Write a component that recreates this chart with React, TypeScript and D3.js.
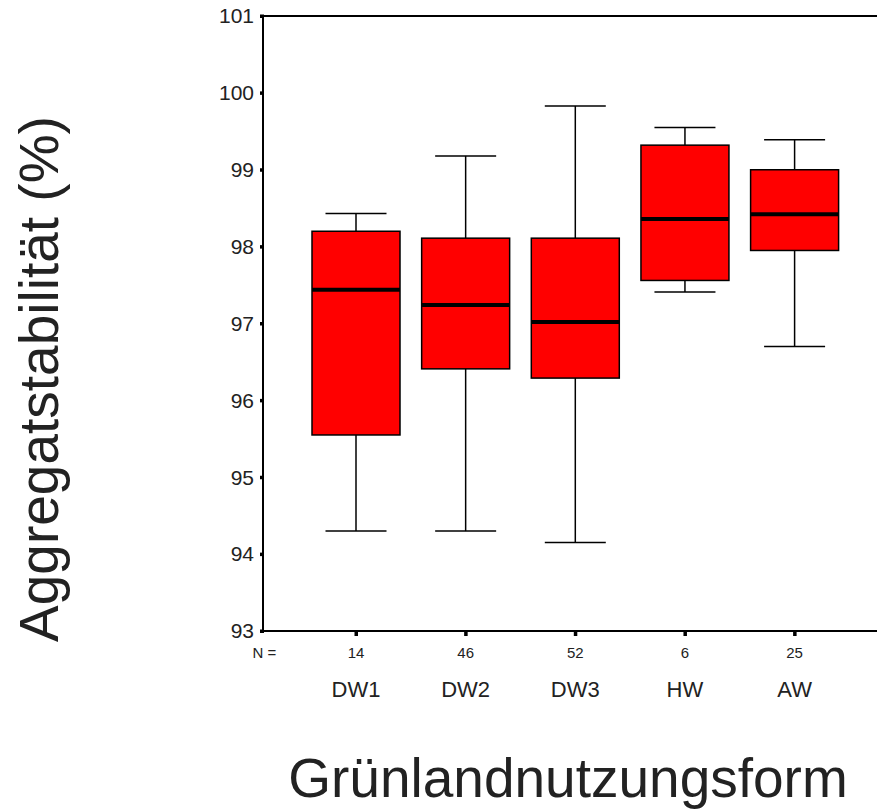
import React from "react";
import * as d3 from "d3";

const categories = ["DW1", "DW2", "DW3", "HW", "AW"];
const counts = [14, 46, 52, 6, 25];
const whiskerLow = [94.3, 94.3, 94.15, 97.41, 96.7];
const q1 = [95.55, 96.41, 96.29, 97.56, 97.95];
const medians = [97.44, 97.24, 97.02, 98.36, 98.42];
const q3 = [98.2, 98.11, 98.11, 99.32, 99.0];
const whiskerHigh = [98.43, 99.18, 99.83, 99.55, 99.39];
const yTicks = [93, 94, 95, 96, 97, 98, 99, 100, 101];

const W = 877;
const H = 809;
const font = "'Liberation Sans', Arial, sans-serif";

export default function App() {
  const y = d3.scaleLinear().domain([93, 101]).range([631, 16]);
  const x = d3.scalePoint<string>().domain(categories).range([356, 794.6]);
  const left = 263;
  const right = 900;
  const boxHalf = 44;
  const capHalf = 30.5;

  return (
    <svg width={W} height={H} style={{ position: "absolute", left: 0, top: 0, background: "#fff" }}>
      {/* frame */}
      <line x1={left} x2={right} y1={y(101)} y2={y(101)} stroke="#000" strokeWidth={1.8} />
      <line x1={left} x2={right} y1={y(93)} y2={y(93)} stroke="#000" strokeWidth={2} />
      <line x1={left} x2={left} y1={y(101)} y2={y(93)} stroke="#000" strokeWidth={2} />
      {/* y ticks */}
      {yTicks.map((t) => (
        <g key={t}>
          <rect x={left - 3} y={y(t) - 1.5} width={4} height={3.5} fill="#000" />
          <text x={254} y={y(t)} dy="0.35em" textAnchor="end" fontFamily={font} fontSize={21} fill="#222">
            {t}
          </text>
        </g>
      ))}
      {/* x ticks & labels */}
      {categories.map((c, i) => (
        <g key={c}>
          <rect x={x(c)! - 1.5} y={y(93) + 1} width={3.5} height={4} fill="#000" />
          <text x={x(c)} y={658} textAnchor="middle" fontFamily={font} fontSize={15} fill="#222">
            {counts[i]}
          </text>
          <text x={x(c)} y={697} textAnchor="middle" fontFamily={font} fontSize={22} fill="#222">
            {c}
          </text>
        </g>
      ))}
      <text x={264.5} y={658} textAnchor="middle" fontFamily={font} fontSize={15} fill="#222">
        N =
      </text>
      {/* boxes */}
      {categories.map((c, i) => {
        const cx = x(c)!;
        return (
          <g key={"b" + c}>
            <line x1={cx} x2={cx} y1={y(whiskerHigh[i])} y2={y(q3[i])} stroke="#000" strokeWidth={1.5} />
            <line x1={cx} x2={cx} y1={y(q1[i])} y2={y(whiskerLow[i])} stroke="#000" strokeWidth={1.5} />
            <line x1={cx - capHalf} x2={cx + capHalf} y1={y(whiskerHigh[i])} y2={y(whiskerHigh[i])} stroke="#000" strokeWidth={1.5} />
            <line x1={cx - capHalf} x2={cx + capHalf} y1={y(whiskerLow[i])} y2={y(whiskerLow[i])} stroke="#000" strokeWidth={1.5} />
            <rect
              x={cx - boxHalf}
              y={y(q3[i])}
              width={boxHalf * 2}
              height={y(q1[i]) - y(q3[i])}
              fill="#ff0000"
              stroke="#000"
              strokeWidth={1.5}
            />
            <line x1={cx - boxHalf} x2={cx + boxHalf} y1={y(medians[i])} y2={y(medians[i])} stroke="#000" strokeWidth={4} />
          </g>
        );
      })}
      {/* titles */}
      <text
        transform={`translate(58, 379) rotate(-90)`}
        textAnchor="middle"
        fontFamily={font}
        fontSize={55}
        fill="#222"
      >
        Aggregatstabilität (%)
      </text>
      <text x={568} y={797} textAnchor="middle" fontFamily={font} fontSize={55} fill="#222">
        Grünlandnutzungsform
      </text>
    </svg>
  );
}
